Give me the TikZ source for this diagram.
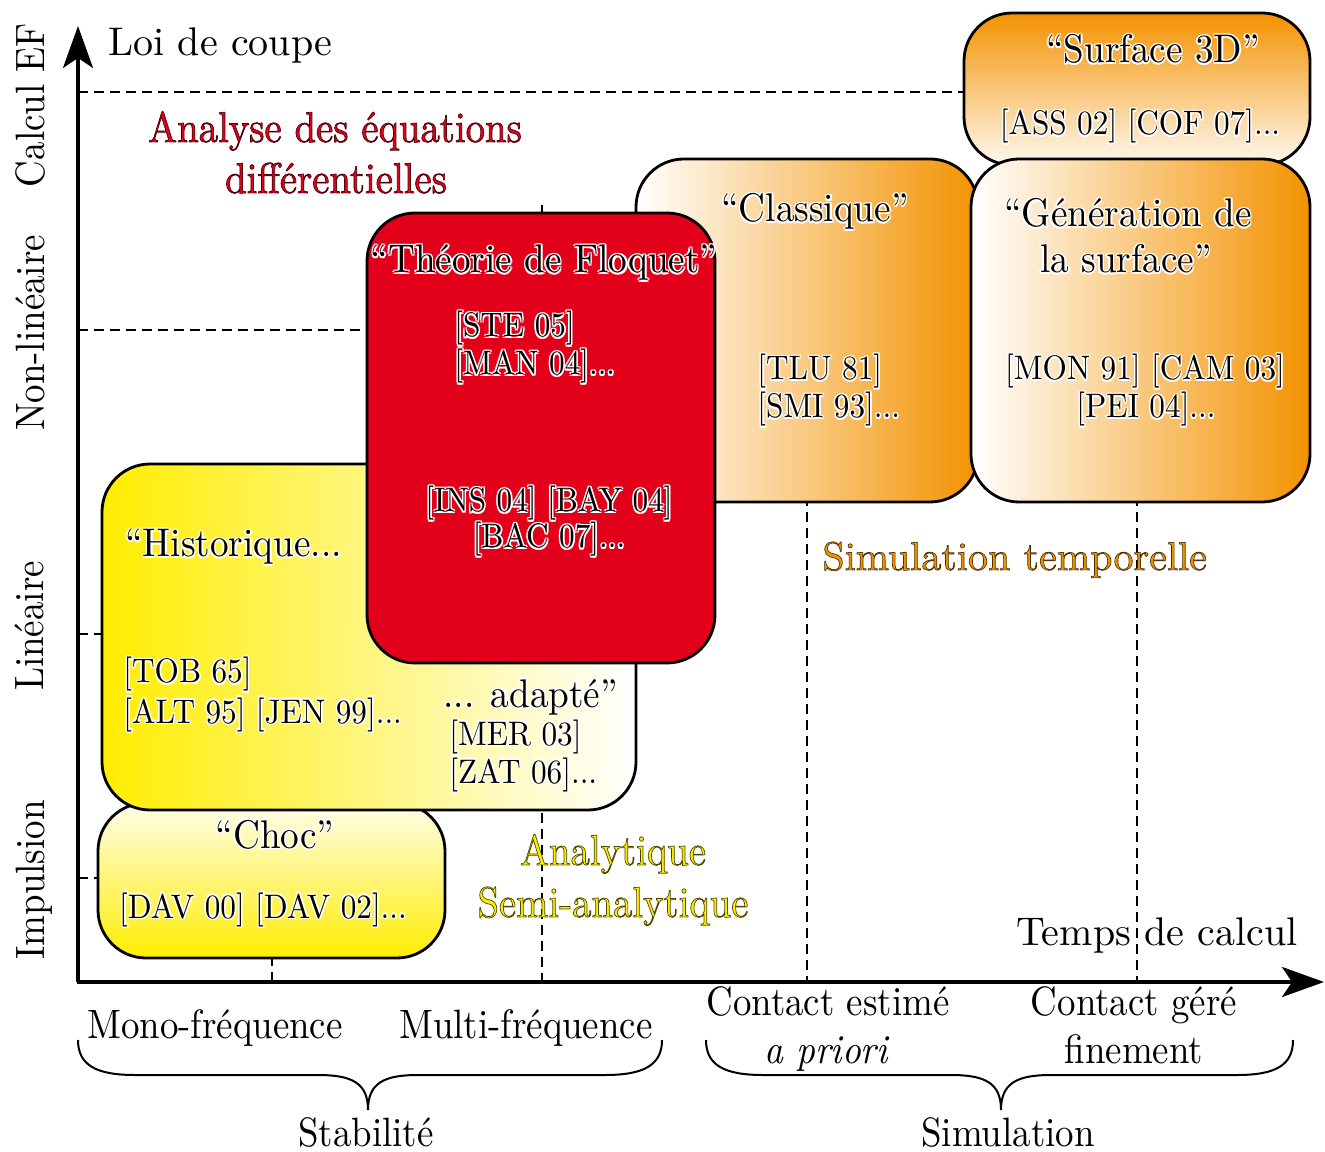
\documentclass[tikz,border=0pt]{standalone}
\usepackage{fontspec}
\newfontfamily\cf{lmroman10-regular.otf}[FakeStretch=0.9,ItalicFont=lmroman10-italic.otf]
\newfontfamily\nf{lmroman10-regular.otf}
\newfontfamily\bxf{lmroman10-regular.otf}[FakeStretch=0.93]
\newfontfamily\rxf{lmroman10-regular.otf}[FakeStretch=0.92]
\newfontfamily\cfo{lmroman10-regular.otf}[FakeStretch=0.9,FakeBold=1.6]
\newfontfamily\nfo{lmroman10-regular.otf}[FakeBold=1.6]
\usetikzlibrary{calc,arrows.meta}
\definecolor{cY}{HTML}{FFED00}
\definecolor{cO}{HTML}{F39200}
\definecolor{cR}{HTML}{E2001A}
% text with separate fill and outline colours
\newcommand\txo[3]{\special{pdf:bcolor [#1] [#2]}#3\special{pdf:ecolor}}
\def\halow{1.6}
% #1 name, #2 options, #3 position, #4 halo colour, #5 text
\newcommand\halo[5]{%
  \foreach \hdx/\hdy [count=\hi] in {1/0,-1/0,0/1,0/-1,0.7/0.7,-0.7/0.7,0.7/-0.7,-0.7/-0.7}{
    \node[#2,text=#4,name=#1h\hi] at ($#3+(\hdx*\halow,\hdy*\halow)$) {#5};
  }
  \node[#2,name=#1] at #3 {#5};
}
\begin{document}
\begin{tikzpicture}[x=0.5pt,y=0.5pt,
  ttl/.style={font={\bxf\fontsize{20}{23}\selectfont},inner sep=0pt},
  ref/.style={font={\rxf\fontsize{17}{20}\selectfont},inner sep=0pt},
  lab/.style={font={\cf\fontsize{20.5}{24}\selectfont},inner sep=0pt},
  clab/.style={font={\cfo\fontsize{21.5}{24}\selectfont},inner sep=0pt},
  big/.style={font={\nf\fontsize{20}{24}\selectfont},inner sep=0pt},
  cbig/.style={font={\nfo\fontsize{20}{24}\selectfont},inner sep=0pt},
  dsh/.style={line width=0.9pt,dash pattern=on 5pt off 3pt},
  boxo/.style={draw=black,line width=1.4pt,rounded corners=24pt},
  axisline/.style={line width=1.6pt,-{Stealth[length=21pt,width=15pt,inset=5pt]}},
  brace/.style={line width=1pt}]

\useasboundingbox (0,0) rectangle (1325,1151);
\fill[white] (0,0) rectangle (1325,1151);

% dashed guide lines
\draw[dsh] (78,1059) -- (1000,1059);
\draw[dsh] (78,821) -- (400,821);
\draw[dsh] (78,517) -- (150,517);
\draw[dsh] (78,273) -- (150,273);
\draw[dsh] (272,169) -- (272,250);
\draw[dsh] (542,946) -- (542,169);
\draw[dsh] (807,671) -- (807,169);
\draw[dsh] (1137,671) -- (1137,169);

% boxes
\path[boxo,top color=cY!8!white,bottom color=cY] (98,193) rectangle (445,348);
\path[boxo,left color=cY,right color=white] (102,341) rectangle (636,687);
\path[boxo,left color=white,right color=cO] (636,649) rectangle (978,992);
\path[boxo,top color=cO,bottom color=cO!6!white] (964,986) rectangle (1310,1138);
\path[boxo,left color=white,right color=cO] (971,649) rectangle (1310,992);
\path[boxo,fill=cR] (367,488) rectangle (715,938);

% axes
\coordinate (orig) at (78,169);
\coordinate (ytip) at (78,1125);
\coordinate (xstart) at (77.2,169);
\coordinate (xtip) at (1324,169);
\draw[axisline] (orig) -- (ytip);
\draw[axisline] (xstart) -- (xtip);

% box texts
\halo{surf}{ttl,anchor=base}{(1153,1088)}{white}{“Surface 3D”}
\halo{surfr}{ref,anchor=base}{(1140,1016)}{white}{[ASS 02] [COF 07]...}
\halo{clas}{ttl,anchor=base}{(815,929)}{white}{“Classique”}
\halo{tlu}{ref,anchor=base west}{(757,771)}{white}{[TLU 81]}
\halo{smi}{ref,anchor=base west}{(757,733)}{white}{[SMI 93]...}
\halo{gen1}{ttl,anchor=base}{(1128,924)}{white}{“Génération de}
\halo{gen2}{ttl,anchor=base}{(1126,878)}{white}{la surface”}
\halo{mon}{ref,anchor=base}{(1145,771)}{white}{[MON 91] [CAM 03]}
\halo{pei}{ref,anchor=base}{(1146,733)}{white}{[PEI 04]...}
\halo{flo}{ttl,anchor=base}{(544,878)}{white}{“Théorie de Floquet”}
\halo{ste}{ref,anchor=base west}{(454,814)}{white}{[STE 05]}
\halo{man}{ref,anchor=base west}{(454,776)}{white}{[MAN 04]...}
\halo{ins}{ref,anchor=base}{(549,639)}{white}{[INS 04] [BAY 04]}
\halo{bac}{ref,anchor=base}{(549,603)}{white}{[BAC 07]...}
\halo{his}{ttl,anchor=base west}{(125,594)}{white}{“Historique...}
\halo{tob}{ref,anchor=base west}{(123,468)}{white}{[TOB 65]}
\halo{alt}{ref,anchor=base west}{(123,428)}{white}{[ALT 95] [JEN 99]...}
\halo{ada}{ttl,anchor=base west}{(443,444)}{white}{... adapté”}
\halo{mer}{ref,anchor=base west}{(449,406)}{white}{[MER 03]}
\halo{zat}{ref,anchor=base west}{(449,368)}{white}{[ZAT 06]...}
\halo{choc}{ttl,anchor=base}{(275,303)}{white}{“Choc”}
\halo{dav}{ref,anchor=base}{(263,233)}{white}{[DAV 00] [DAV 02]...}

% coloured labels
\node[clab,anchor=base] (ana1) at (335,1009) {\txo{0.886 0 0.102}{0.3 0 0.04}{Analyse des équations}};
\node[clab,anchor=base] (ana2) at (336,958) {\txo{0.886 0 0.102}{0.3 0 0.04}{différentielles}};
\node[cbig,anchor=base west] (simt) at (822,581) {\txo{0.953 0.573 0}{0.3 0.18 0}{Simulation temporelle}};
\node[clab,anchor=base] (anal) at (613,286) {\txo{1 0.929 0}{0.3 0.28 0}{Analytique}};
\node[clab,anchor=base] (semi) at (613,234) {\txo{1 0.929 0}{0.3 0.28 0}{Semi-analytique}};

% axis labels
\node[big,anchor=base west] (loi) at (108,1095) {Loi de coupe};
\node[lab,rotate=90,anchor=base] (cef) at (44,1046) {Calcul EF};
\node[lab,rotate=90,anchor=base] (nl) at (44,818) {Non-linéaire};
\node[lab,rotate=90,anchor=base] (lin) at (43,525) {Linéaire};
\node[lab,rotate=90,anchor=base] (imp) at (44,271) {Impulsion};
\node[big,anchor=base east] (tdc) at (1298,206) {Temps de calcul};

% bottom labels
\node[lab,anchor=base] (mono) at (215,113) {Mono-fréquence};
\node[lab,anchor=base] (multi) at (526,113) {Multi-fréquence};
\node[lab,anchor=base] (ce) at (828,136) {Contact estimé};
\node[lab,anchor=base] (ap) at (826,88) {\itshape a priori};
\node[lab,anchor=base] (cg) at (1134,136) {Contact géré};
\node[lab,anchor=base] (fin) at (1134,88) {finement};
\node[lab,anchor=base] (stab) at (366,5) {Stabilité};
\node[lab,anchor=base] (simu) at (1008,5) {Simulation};

% braces
\draw[brace] (78,111) .. controls (78,86) and (96,76) .. (135,76) -- (318,76)
  .. controls (352,76) and (368,68) .. (368,41)
  .. controls (368,68) and (384,76) .. (418,76) -- (605,76)
  .. controls (644,76) and (662,86) .. (662,111);
\draw[brace] (706,111) .. controls (706,86) and (724,76) .. (763,76) -- (951,76)
  .. controls (985,76) and (1001,68) .. (1001,41)
  .. controls (1001,68) and (1017,76) .. (1051,76) -- (1237,76)
  .. controls (1276,76) and (1293,86) .. (1293,111);
\end{tikzpicture}
\end{document}
